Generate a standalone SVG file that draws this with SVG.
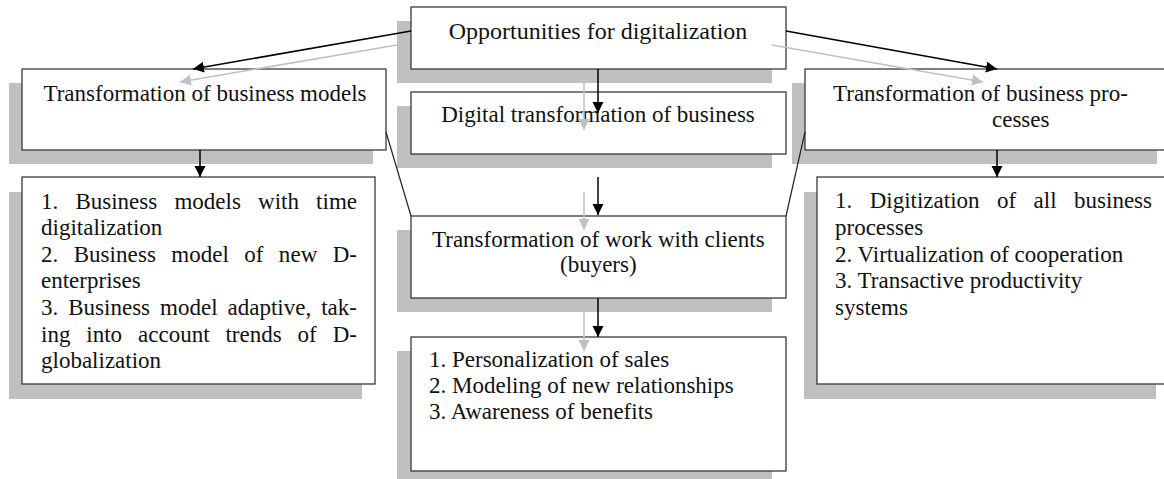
<svg xmlns="http://www.w3.org/2000/svg" width="1164" height="479" viewBox="0 0 1164 479">
<defs>
<style>
.sh{fill:#c0c0c0;stroke:none}
.bx{fill:#fff;stroke:#3a3a3a;stroke-width:1.3}
.t{font-family:'Liberation Serif','Times New Roman',serif;font-size:23px;fill:#111}
.c{text-anchor:middle}
.k{stroke:#000;stroke-width:1.5;fill:none}
.g{stroke:#c0c0c0;stroke-width:1.5;fill:none}
.ln{stroke:#222;stroke-width:1.2;fill:none}
</style>
<marker id="ak" markerUnits="userSpaceOnUse" markerWidth="12" markerHeight="12" refX="11" refY="5.5" orient="auto"><path d="M0,0 L11,5.5 L0,11 z" fill="#000"/></marker>
<marker id="ag" markerUnits="userSpaceOnUse" markerWidth="12" markerHeight="12" refX="11" refY="5.5" orient="auto"><path d="M0,0 L11,5.5 L0,11 z" fill="#c0c0c0"/></marker>
</defs>
<rect width="1164" height="479" fill="#fff"/>

<g id="opportunities">
<rect class="sh" x="397" y="21" width="375" height="62"/>
<rect class="bx" x="411" y="7" width="375" height="62"/>
<text class="t c" x="598" y="39" style="font-size:24px">Opportunities for digitalization</text>
</g>

<g id="business-models">
<rect class="sh" x="9" y="83" width="364" height="81"/>
<rect class="bx" x="22" y="69" width="364" height="81"/>
<text class="t c" x="205" y="101">Transformation of business models</text>
</g>

<g id="digital-transformation">
<rect class="sh" x="397" y="106" width="375" height="62"/>
<rect class="bx" x="411" y="92" width="375" height="62"/>
<text class="t c" x="598" y="122">Digital transformation of business</text>
</g>

<g id="business-processes">
<rect class="sh" x="792" y="83" width="365" height="81"/>
<rect class="bx" x="805" y="69" width="366" height="81"/>
<text class="t" x="833" y="101">Transformation of business pro-</text>
<text class="t" x="992" y="127">cesses</text>
</g>

<g id="models-list">
<rect class="sh" x="9" y="192" width="353" height="207"/>
<rect class="bx" x="22" y="177" width="353" height="207"/>
<text class="t" x="41" y="209" style="word-spacing:11.4px" textLength="316" lengthAdjust="spacing">1. Business models with time</text>
<text class="t" x="41" y="235">digitalization</text>
<text class="t" x="41" y="262" style="word-spacing:9.5px" textLength="316" lengthAdjust="spacing">2. Business model of new D-</text>
<text class="t" x="41" y="288">enterprises</text>
<text class="t" x="41" y="315" style="word-spacing:4.2px" textLength="316" lengthAdjust="spacing">3. Business model adaptive, tak-</text>
<text class="t" x="41" y="342" style="word-spacing:10.2px" textLength="316" lengthAdjust="spacing">ing into account trends of D-</text>
<text class="t" x="41" y="368">globalization</text>
</g>

<g id="clients">
<rect class="sh" x="397" y="230" width="375" height="82"/>
<rect class="bx" x="411" y="216" width="375" height="82"/>
<text class="t" x="432" y="247">Transformation of work with clients</text>
<text class="t" x="560" y="272">(buyers)</text>
</g>

<g id="clients-list">
<rect class="sh" x="397" y="351" width="375" height="134"/>
<rect class="bx" x="411" y="337" width="375" height="134"/>
<text class="t" x="429" y="367">1. Personalization of sales</text>
<text class="t" x="429" y="393">2. Modeling of new relationships</text>
<text class="t" x="429" y="419">3. Awareness of benefits</text>
</g>

<g id="processes-list">
<rect class="sh" x="804" y="192" width="352" height="207"/>
<rect class="bx" x="817" y="177" width="352" height="207"/>
<text class="t" x="835" y="208" style="word-spacing:11.7px" textLength="317" lengthAdjust="spacing">1. Digitization of all business</text>
<text class="t" x="835" y="235">processes</text>
<text class="t" x="835" y="262">2. Virtualization of cooperation</text>
<text class="t" x="835" y="288">3. Transactive productivity</text>
<text class="t" x="835" y="315">systems</text>
</g>

<g id="connectors">
<line class="g" x1="397" y1="45" x2="180" y2="82" marker-end="url(#ag)"/>
<line class="g" x1="772" y1="45" x2="983" y2="82" marker-end="url(#ag)"/>
<line class="g" x1="584" y1="83" x2="584" y2="130" marker-end="url(#ag)"/>
<line class="g" x1="584" y1="192" x2="584" y2="230" marker-end="url(#ag)"/>
<line class="g" x1="584" y1="312" x2="584" y2="351" marker-end="url(#ag)"/>
<line class="k" x1="411" y1="31" x2="193" y2="69" marker-end="url(#ak)"/>
<line class="k" x1="786" y1="31" x2="997" y2="69" marker-end="url(#ak)"/>
<line class="k" x1="598" y1="69" x2="598" y2="113" marker-end="url(#ak)"/>
<line class="k" x1="598" y1="177" x2="598" y2="215" marker-end="url(#ak)"/>
<line class="k" x1="598" y1="298" x2="598" y2="337" marker-end="url(#ak)"/>
<line class="k" x1="200" y1="150" x2="200" y2="177" marker-end="url(#ak)"/>
<line class="k" x1="997" y1="150" x2="997" y2="177" marker-end="url(#ak)"/>
<line class="ln" x1="386" y1="132" x2="411" y2="216"/>
<line class="ln" x1="805" y1="132" x2="786" y2="216"/>
</g>
</svg>
